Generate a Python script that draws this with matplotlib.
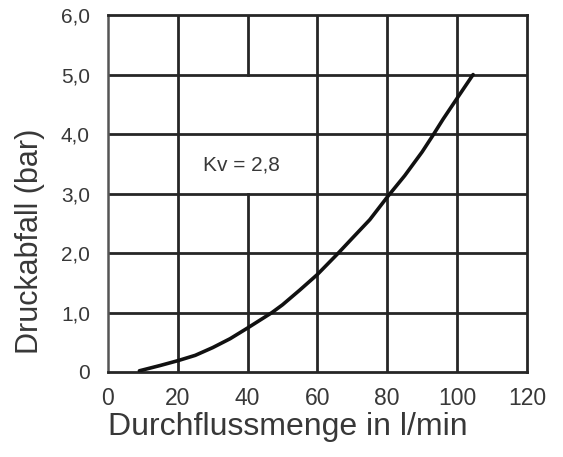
import matplotlib
matplotlib.use("Agg")
import matplotlib.pyplot as plt

# values
flow = [9, 15, 20, 25, 30, 35, 40, 47, 50, 55, 60, 66, 70, 75, 80, 85, 90, 93, 96, 100, 104.6]
drop = [0.02, 0.11, 0.19, 0.28, 0.41, 0.56, 0.74, 1.0, 1.13, 1.38, 1.64, 2.0, 2.25, 2.56, 2.94,
        3.3, 3.7, 3.97, 4.25, 4.6, 5.0]
x_ticks = [0, 20, 40, 60, 80, 100, 120]
y_ticks = [0, 1, 2, 3, 4, 5, 6]
y_labels = ["0", "1,0", "2,0", "3,0", "4,0", "5,0", "6,0"]

plt.rcParams['font.family'] = ['Liberation Sans', 'DejaVu Sans']
grid_col = "#262626"
text_col = "#383838"

fig = plt.figure(figsize=(5.63, 4.57), dpi=100)
ax = fig.add_axes([0.1918, 0.186, 0.744, 0.781])
ax.set_xlim(0, 120)
ax.set_ylim(0, 6)

# grid lines drawn by hand (the 40 line is broken behind the label)
for x in x_ticks[1:-1]:
    if x == 40:
        ax.axvline(x, ymin=0, ymax=0.5, color=grid_col, lw=2, zorder=1)
        ax.axvline(x, ymin=5/6, ymax=1, color=grid_col, lw=2, zorder=1)
    else:
        ax.axvline(x, color=grid_col, lw=2, zorder=1)
for y in y_ticks[1:-1]:
    ax.axhline(y, color=grid_col, lw=2, zorder=1)

ax.plot(flow, drop, color="#111111", lw=2.6, zorder=3,
        solid_capstyle="round", solid_joinstyle="round")

ax.text(27.2, 3.48, "Kv = 2,8", fontsize=15, color=text_col, va="center")

for side in ["top", "bottom", "right"]:
    ax.spines[side].set_color(grid_col)
    ax.spines[side].set_linewidth(2)
ax.spines["left"].set_color("#555555")
ax.spines["left"].set_linewidth(1.8)

ax.set_xticks(x_ticks)
ax.set_yticks(y_ticks)
ax.set_yticklabels(y_labels)
ax.tick_params(length=0, labelcolor=text_col)
ax.tick_params(axis="x", pad=11, labelsize=16.5)
ax.tick_params(axis="y", pad=13, labelsize=15)

fig.text(0.511, 0.048, "Durchflussmenge in l/min", fontsize=23, color=text_col,
         ha="center", va="baseline")
fig.text(0.053, 0.473, "Druckabfall (bar)", fontsize=22, color=text_col,
         rotation=90, ha="center", va="center")

fig.savefig("out.png", dpi=100)
